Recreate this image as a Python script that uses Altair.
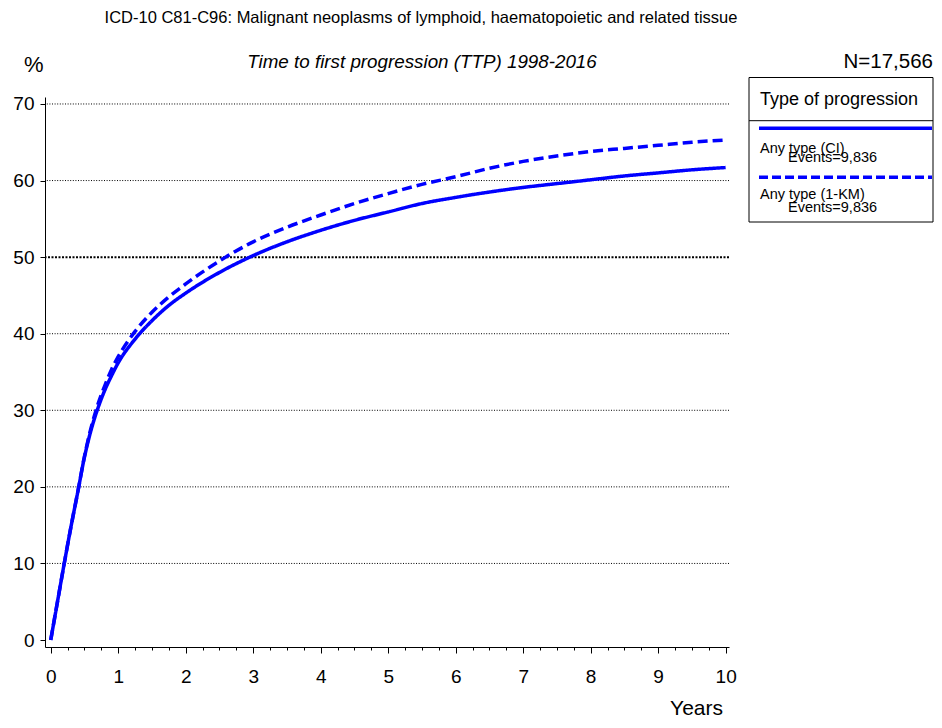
import altair as alt
import pandas as pd

# ---- data ----
years = [0, 0.1, 0.2, 0.3, 0.4, 0.5, 0.6, 0.7, 0.8, 0.9, 1.0, 1.25, 1.5, 1.75,
         2, 2.5, 3, 3.5, 4, 4.5, 5, 5.5, 6, 6.5, 7, 7.5, 8, 8.5, 9, 9.5, 10]
ci_pct = [0, 5.0, 10.0, 14.8, 19.3, 23.9, 27.5, 30.3, 32.6, 34.5, 36.2, 39.3, 41.7, 43.7,
          45.3, 48.0, 50.2, 52.0, 53.5, 54.8, 55.9, 57.0, 57.8, 58.5, 59.1, 59.6, 60.1, 60.6, 61.0, 61.4, 61.7]
km_pct = [0, 5.0, 10.0, 14.8, 19.3, 24.0, 27.8, 30.8, 33.2, 35.3, 37.0, 40.3, 42.8, 44.8,
          46.5, 49.5, 52.0, 53.9, 55.5, 57.0, 58.3, 59.5, 60.5, 61.6, 62.5, 63.2, 63.8, 64.2, 64.6, 65.0, 65.3]
series_names = ["Any type (CI)", "Any type (1-KM)"]
events = ["Events=9,836", "Events=9,836"]
grid_thin = [10, 20, 30, 40, 60, 70]
grid_thick = [50]
x_ticks = [i * 0.25 for i in range(41)]
y_ticks = [i * 5 for i in range(15)]

title_main = "ICD-10 C81-C96: Malignant neoplasms of lymphoid, haematopoietic and related tissue"
title_sub = "Time to first progression (TTP) 1998-2016"
n_text = "N=17,566"
legend_title = "Type of progression"

FONT = "Liberation Sans"
BLUE = "#0000FF"

n = len(years)
df = pd.DataFrame({
    "t": years + years,
    "v": ci_pct + km_pct,
    "s": [series_names[0]] * n + [series_names[1]] * n,
})

xscale = alt.Scale(domain=[-0.085, 10.05], nice=False, zero=False)
yscale = alt.Scale(domain=[-0.91, 70.91], nice=False, zero=False)

x_axis = alt.Axis(
    values=x_ticks, title=None, grid=False,
    labelExpr="datum.value % 1 == 0 ? format(datum.value, 'd') : ''",
    tickSize={"condition": {"test": "datum.value % 1 == 0", "value": 6}, "value": 3},
    labelFont=FONT, labelFontSize=19, labelPadding=14, labelColor="black",
    labelOverlap=False, labelFlush=False, labelAngle=0,
    domainColor="black", domainWidth=1, tickColor="black", tickWidth=1,
)
y_axis = alt.Axis(
    values=y_ticks, title=None, grid=False,
    labelExpr="datum.value % 10 == 0 ? format(datum.value, 'd') : ''",
    tickSize={"condition": {"test": "datum.value % 10 == 0", "value": 5}, "value": 4},
    labelFont=FONT, labelFontSize=19, labelPadding=6, labelColor="black",
    labelOverlap=False, labelFlush=False,
    domainColor="black", domainWidth=1, tickColor="black", tickWidth=1,
)

grid1 = alt.Chart(pd.DataFrame({"g": grid_thin})).mark_rule(
    color="black", strokeWidth=1, strokeDash=[1, 1.6]
).encode(y=alt.Y("g:Q", scale=yscale, axis=y_axis))

grid2 = alt.Chart(pd.DataFrame({"g": grid_thick})).mark_rule(
    color="black", strokeWidth=2, strokeDash=[2, 1.5]
).encode(y=alt.Y("g:Q", scale=yscale))

lines = alt.Chart(df).mark_line(color=BLUE, strokeWidth=3.5, clip=False, interpolate="monotone").encode(
    x=alt.X("t:Q", scale=xscale, axis=x_axis),
    y=alt.Y("v:Q", scale=yscale),
    strokeDash=alt.StrokeDash("s:N", scale=alt.Scale(domain=series_names, range=[[1, 0], [10, 5]]), legend=None),
    detail="s:N",
)

one = pd.DataFrame({"k": [0]})
base = alt.Chart(one)

def txt(s, x, y, size, align="left", style="normal", baseline="alphabetic"):
    return base.mark_text(text=s, font=FONT, fontSize=size, align=align, fontStyle=style,
                          baseline=baseline, color="black").encode(x=alt.value(x), y=alt.value(y))

# plot origin at page (45, 97)
texts = [
    txt(title_main, 376, -74, 16.5, align="center"),
    txt(title_sub, 377, -29, 18.8, align="center", style="italic"),
    txt(n_text, 888, -29, 20.5, align="right"),
    txt("%", -21, -25, 22, align="left"),
    txt("Years", 678, 618, 21, align="right"),
    txt(legend_title, 715, 8, 18),
    txt(series_names[0], 715, 56, 14.5),
    txt(events[0], 743, 65, 14.5),
    txt(series_names[1], 715, 102, 14.5),
    txt(events[1], 743, 114.5, 14.5),
]

box = base.mark_rect(fill="white", stroke="black", strokeWidth=1).encode(
    x=alt.value(704), x2=alt.value(888), y=alt.value(-19.5), y2=alt.value(125)
)
divider = base.mark_rule(color="black", strokeWidth=1).encode(
    x=alt.value(704), x2=alt.value(888), y=alt.value(23.7)
)
leg_solid = base.mark_rule(color=BLUE, strokeWidth=3.5).encode(
    x=alt.value(714), x2=alt.value(887), y=alt.value(31.3)
)
leg_dash = base.mark_rule(color=BLUE, strokeWidth=3.5, strokeDash=[9, 4]).encode(
    x=alt.value(714), x2=alt.value(887), y=alt.value(80.3)
)

chart = alt.layer(
    grid1, grid2, lines, box, divider, leg_solid, leg_dash, *texts
).resolve_scale(strokeDash="independent").properties(
    width=684, height=550,
    padding={"left": 37, "top": 89, "right": 205, "bottom": 73},
    autosize=alt.AutoSizeParams(type="none"),
    background="white",
).configure_view(stroke=None)

chart.save("out.html", embed_options={"renderer": "svg", "actions": False})
